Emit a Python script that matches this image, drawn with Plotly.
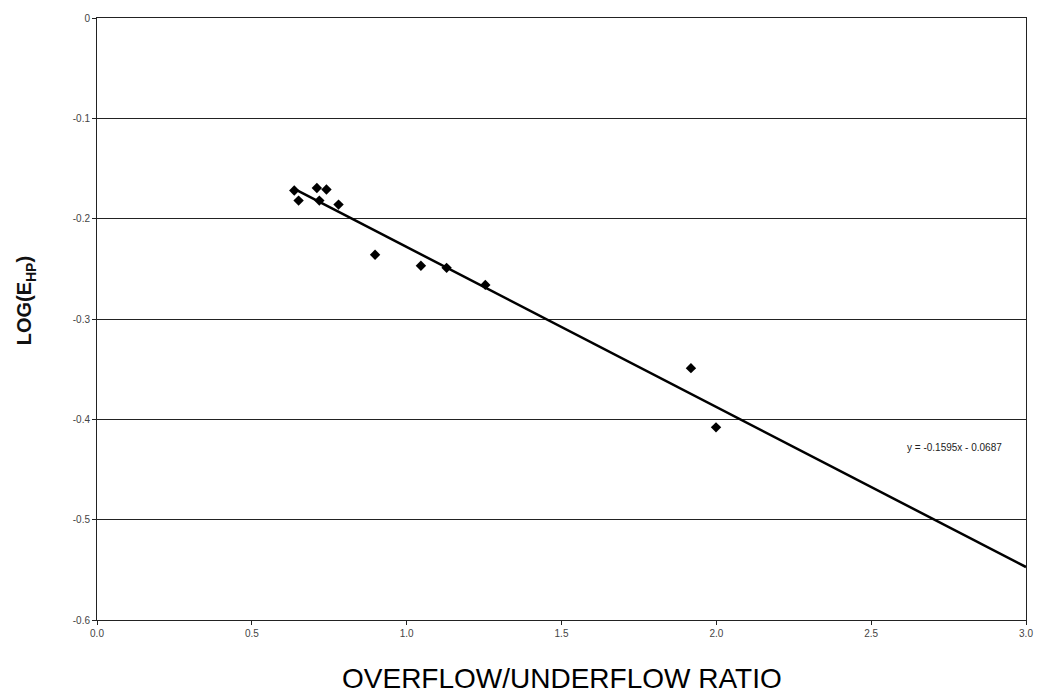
import plotly.graph_objects as go

# Measured overflow/underflow ratios and log of the efficiency
ratio = [0.637, 0.651, 0.710, 0.718, 0.741, 0.780, 0.898, 1.046, 1.129, 1.254, 1.918, 1.999]
log_ehp = [-0.172, -0.182, -0.1695, -0.182, -0.171, -0.186, -0.236, -0.247, -0.249, -0.266, -0.349, -0.408]

# Linear trend line coefficients (y = slope * x + intercept)
slope = -0.1595
intercept = -0.0687
trend_x = [min(ratio), 3.0]
trend_y = [slope * x + intercept for x in trend_x]

x_ticks = [0.0, 0.5, 1.0, 1.5, 2.0, 2.5, 3.0]
y_ticks = [0.0, -0.1, -0.2, -0.3, -0.4, -0.5, -0.6]

font = "Liberation Sans, Arial, sans-serif"

fig = go.Figure()
fig.add_trace(go.Scatter(
    x=trend_x, y=trend_y, mode="lines",
    line=dict(color="black", width=2.5),
    showlegend=False, hoverinfo="skip",
))
fig.add_trace(go.Scatter(
    x=ratio, y=log_ehp, mode="markers",
    marker=dict(symbol="diamond", size=8, color="black"),
    showlegend=False,
))

# Trend line equation
fig.add_annotation(
    x=2.77, y=-0.428, xref="x", yref="y",
    text=f"y = {slope:.4f}x - {abs(intercept):.4f}",
    showarrow=False,
    font=dict(family=font, size=10, color="#222"),
)

# Axis titles
fig.add_annotation(
    x=0.5, y=-0.097, xref="paper", yref="paper",
    xanchor="center", yanchor="middle",
    text="OVERFLOW/UNDERFLOW RATIO",
    showarrow=False,
    font=dict(family=font, size=28, color="#000"),
)
fig.add_annotation(
    x=-0.076, y=0.53, xref="paper", yref="paper",
    text="<b>LOG(E<sub>HP</sub>)</b>",
    textangle=-90, showarrow=False,
    xanchor="center", yanchor="middle",
    font=dict(family=font, size=20, color="#111"),
)

fig.update_layout(
    width=1045, height=700,
    margin=dict(l=97, r=16, t=17, b=80),
    paper_bgcolor="white", plot_bgcolor="white",
    font=dict(family=font, color="#333"),
)
fig.update_xaxes(
    range=[0, 3.0], tickvals=x_ticks,
    ticktext=[f"{v:.1f}" for v in x_ticks],
    showgrid=False, zeroline=False,
    showline=True, linecolor="#222", linewidth=1, mirror=True,
    ticks="outside", ticklen=4, tickcolor="#222",
    tickfont=dict(family=font, size=10, color="#444"),
)
fig.update_yaxes(
    range=[-0.6, 0.0], tickvals=y_ticks,
    ticktext=["0" if v == 0 else f"{v:.1f}" for v in y_ticks],
    showgrid=True, gridcolor="#222", gridwidth=1,
    zeroline=False,
    showline=True, linecolor="#222", linewidth=1, mirror=True,
    ticks="outside", ticklen=4, tickcolor="#222",
    tickfont=dict(family=font, size=10, color="#444"),
)

fig.write_html("out.html")
